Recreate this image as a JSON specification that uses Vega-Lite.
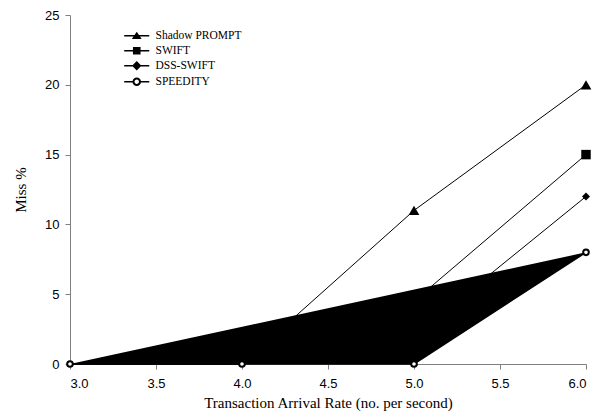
{
  "$schema": "https://vega.github.io/schema/vega-lite/v6.json",
  "width": 516,
  "height": 349,
  "autosize": "none",
  "padding": {"left": 70, "top": 15, "right": 16, "bottom": 48},
  "background": "white",
  "config": {
    "view": {"stroke": null},
    "axis": {
      "grid": false,
      "domainColor": "#808080",
      "tickColor": "#808080",
      "tickSize": 5,
      "labelFont": "Liberation Sans",
      "labelFontSize": 13,
      "labelFontWeight": "normal",
      "labelColor": "black",
      "titleFont": "Liberation Serif",
      "titleFontSize": 15,
      "titleFontWeight": "normal",
      "titleColor": "black"
    }
  },
  "data": {
    "values": [
      {"series": "Shadow PROMPT", "x": 3, "y": 0},
      {"series": "Shadow PROMPT", "x": 4, "y": 0},
      {"series": "Shadow PROMPT", "x": 5, "y": 11},
      {"series": "Shadow PROMPT", "x": 6, "y": 20},
      {"series": "SWIFT", "x": 3, "y": 0},
      {"series": "SWIFT", "x": 4, "y": 0},
      {"series": "SWIFT", "x": 5, "y": 4.5},
      {"series": "SWIFT", "x": 6, "y": 15},
      {"series": "DSS-SWIFT", "x": 3, "y": 0},
      {"series": "DSS-SWIFT", "x": 4, "y": 0},
      {"series": "DSS-SWIFT", "x": 5, "y": 2},
      {"series": "DSS-SWIFT", "x": 6, "y": 12},
      {"series": "SPEEDITY", "x": 3, "y": 0},
      {"series": "SPEEDITY", "x": 4, "y": 0},
      {"series": "SPEEDITY", "x": 5, "y": 0},
      {"series": "SPEEDITY", "x": 6, "y": 8}
    ]
  },
  "encoding": {
    "x": {
      "field": "x", "type": "quantitative",
      "scale": {"domain": [3, 6], "nice": false, "zero": false},
      "axis": {"values": [3, 3.5, 4, 4.5, 5, 5.5, 6], "format": ".1f", "title": "Transaction Arrival Rate (no. per second)", "titlePadding": 5, "labelPadding": 8}
    },
    "y": {
      "field": "y", "type": "quantitative",
      "scale": {"domain": [0, 25], "nice": false},
      "axis": {"values": [0, 5, 10, 15, 20, 25], "title": "Miss %", "titlePadding": 16, "labelPadding": 6}
    }
  },
  "layer": [
    {
      "transform": [{"filter": "datum.series !== 'SPEEDITY'"}],
      "mark": {"type": "line", "color": "black", "strokeWidth": 1},
      "encoding": {"detail": {"field": "series"}}
    },
    {
      "transform": [{"filter": "datum.series !== 'SPEEDITY' && datum.x >= 5"}],
      "mark": {"type": "point", "filled": true, "color": "black", "opacity": 1},
      "encoding": {
        "shape": {
          "field": "series", "type": "nominal",
          "scale": {"domain": ["Shadow PROMPT", "SWIFT", "DSS-SWIFT"], "range": ["triangle-up", "square", "diamond"]},
          "legend": null
        },
        "size": {
          "field": "series", "type": "nominal",
          "scale": {"domain": ["Shadow PROMPT", "SWIFT", "DSS-SWIFT"], "range": [115, 64, 140]},
          "legend": null
        }
      }
    },
    {
      "transform": [{"filter": "datum.series === 'SPEEDITY'"}],
      "mark": {"type": "line", "stroke": "black", "fill": "black", "strokeWidth": 1.5}
    },
    {
      "transform": [{"filter": "datum.series === 'SPEEDITY'"}],
      "mark": {"type": "point", "shape": "circle", "filled": true, "fill": "white", "stroke": "black", "strokeWidth": 2, "size": 32, "opacity": 1}
    },
    {
      "mark": {"type": "point", "filled": true, "color": "black", "opacity": 0},
      "encoding": {
        "shape": {
          "field": "series", "type": "nominal",
          "scale": {
            "domain": ["Shadow PROMPT", "SWIFT", "DSS-SWIFT", "SPEEDITY"],
            "range": [
              "M-2.8,-0.19L2.8,-0.19L2.8,0.19L-2.8,0.19ZM0,-0.9L1.1,0.75L-1.1,0.75Z",
              "M-2.8,-0.19L2.8,-0.19L2.8,0.19L-2.8,0.19ZM-0.85,-0.85L0.85,-0.85L0.85,0.85L-0.85,0.85Z",
              "M-2.8,-0.19L2.8,-0.19L2.8,0.19L-2.8,0.19ZM0,-1.05L1.05,0L0,1.05L-1.05,0Z",
              "M-2.8,-0.19L-0.85,-0.19L-0.85,0.19L-2.8,0.19ZM0.85,-0.19L2.8,-0.19L2.8,0.19L0.85,0.19ZM0.95,0A0.95,0.95 0 1 1 -0.95,0A0.95,0.95 0 1 1 0.95,0ZM0.5,0A0.5,0.5 0 1 0 -0.5,0A0.5,0.5 0 1 0 0.5,0Z"
            ]
          },
          "legend": {
            "title": null,
            "orient": "none",
            "legendX": 61,
            "legendY": 15,
            "symbolSize": 80,
            "labelFont": "Liberation Serif",
            "labelFontSize": 11.5,
            "labelColor": "black",
            "labelOffset": 13,
            "rowPadding": 0
          }
        }
      }
    }
  ],
  "resolve": {"scale": {"shape": "independent", "size": "independent"}, "legend": {"shape": "independent", "size": "independent"}}
}
